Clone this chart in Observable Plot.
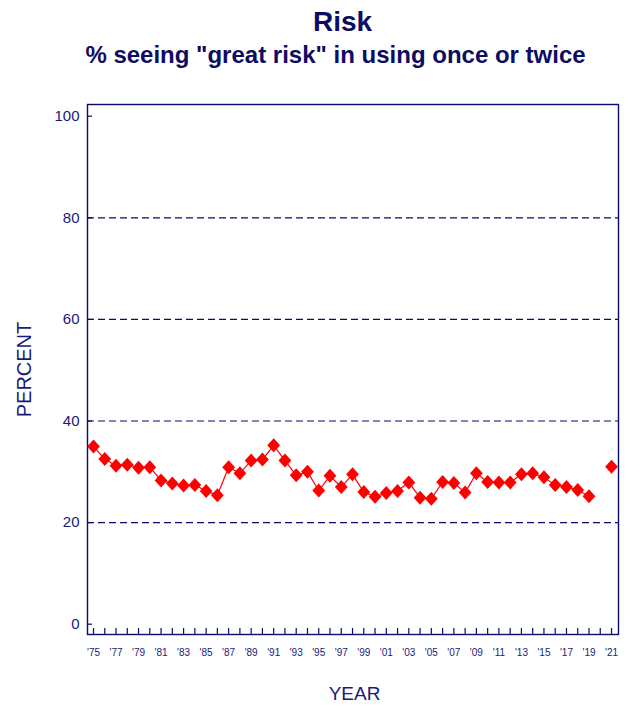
<!DOCTYPE html>
<html>
<head>
<meta charset="utf-8">
<script src="https://cdn.jsdelivr.net/npm/d3@7"></script>
<script src="https://cdn.jsdelivr.net/npm/@observablehq/plot@0.6"></script>
<style>
  html, body { margin: 0; padding: 0; background: #fff; overflow: hidden; }
  #wrap { position: relative; width: 628px; height: 705px; font-family: "Liberation Sans", Arial, sans-serif; }
  .t { position: absolute; text-align: center; white-space: nowrap; font-weight: bold; color: #0c0c62; }
  #title { left: 192.5px; width: 300px; top: 8px; font-size: 28px; line-height: 28px; }
  #subtitle { left: 35.5px; width: 600px; top: 43px; font-size: 24px; line-height: 24px; }
  #chart { position: absolute; left: 0; top: 80px; }
</style>
</head>
<body>
<div id="wrap">
  <div class="t" id="title">Risk</div>
  <div class="t" id="subtitle">% seeing "great risk" in using once or twice</div>
  <div id="chart"></div>
</div>
<script>
// Survey years (2020 not surveyed)
const years = [1975,1976,1977,1978,1979,1980,1981,1982,1983,1984,1985,1986,1987,1988,1989,1990,
  1991,1992,1993,1994,1995,1996,1997,1998,1999,2000,2001,2002,2003,2004,2005,2006,2007,2008,2009,
  2010,2011,2012,2013,2014,2015,2016,2017,2018,2019,2020,2021];
// Percent seeing "great risk"
const percent = [35.0,32.5,31.2,31.4,30.8,30.9,28.3,27.7,27.3,27.4,26.2,25.4,30.9,29.7,32.2,32.4,
  35.2,32.2,29.3,30.0,26.3,29.2,27.0,29.5,26.0,25.1,25.8,26.2,27.9,24.9,24.7,28.0,27.8,25.9,29.7,
  28.0,27.9,27.9,29.5,29.7,28.9,27.4,27.0,26.4,25.2,null,31.0];
const yTicks = [0,20,40,60,80,100];
const gridValues = [20,40,60,80];
const xLabelYears = d3.range(1975, 2022, 2);
const xTickYears = d3.range(1975, 2022, 1);

const data = years.map((y, i) => ({year: y, value: percent[i]}));

const navy = "#0a0a6e";
const textNavy = "#1a1a78";
const W = 628, H = 625, mT = 24, mB = 71, mL = 87, mR = 10;
const innerW = W - mL - mR, innerH = H - mT - mB;

const tallDiamond = {
  draw(ctx, size) {
    const hw = 6.4, hh = 7.0;
    ctx.moveTo(0, -hh); ctx.lineTo(hw, 0); ctx.lineTo(0, hh); ctx.lineTo(-hw, 0); ctx.closePath();
  }
};

const chart = Plot.plot({
  width: W, height: H,
  marginTop: mT, marginBottom: mB, marginLeft: mL, marginRight: mR,
  style: {fontFamily: '"Liberation Sans", Arial, sans-serif', background: "#fff"},
  x: {domain: [1974.467, 2021.62]},
  y: {domain: [-2.03, 102.3]},
  marks: [
    Plot.ruleY(gridValues, {stroke: navy, strokeWidth: 1.2, strokeDasharray: "7,4"}),
    Plot.tickX(xTickYears, {x: d => d, stroke: navy, strokeWidth: 1.2, insetTop: innerH - 6}),
    Plot.tickY(yTicks, {y: d => d, stroke: navy, strokeWidth: 1.2, insetRight: innerW - 5}),
    Plot.axisY({ticks: yTicks, tickSize: 0, tickPadding: 8, fontSize: 15, color: textNavy, label: null}),
    Plot.axisX({ticks: xLabelYears, tickSize: 0, tickPadding: 14, fontSize: 10, color: textNavy,
      tickFormat: d => "'" + String(d).slice(2), label: null}),
    Plot.frame({stroke: navy, strokeWidth: 1.4}),
    Plot.line(data, {x: "year", y: "value", stroke: "#ff0000", strokeWidth: 1.2}),
    Plot.dot(data, {x: "year", y: "value", symbol: tallDiamond, r: 6, fill: "#ff0000", stroke: "none"}),
    Plot.text(["PERCENT"], {frameAnchor: "left", textAnchor: "middle", dx: -62.8, rotate: -90, fontSize: 20, fill: textNavy}),
    Plot.text(["YEAR"], {frameAnchor: "bottom", dx: 1.5, dy: 65, lineAnchor: "bottom", fontSize: 19, fill: textNavy})
  ]
});
document.getElementById("chart").appendChild(chart);
</script>
</body>
</html>
